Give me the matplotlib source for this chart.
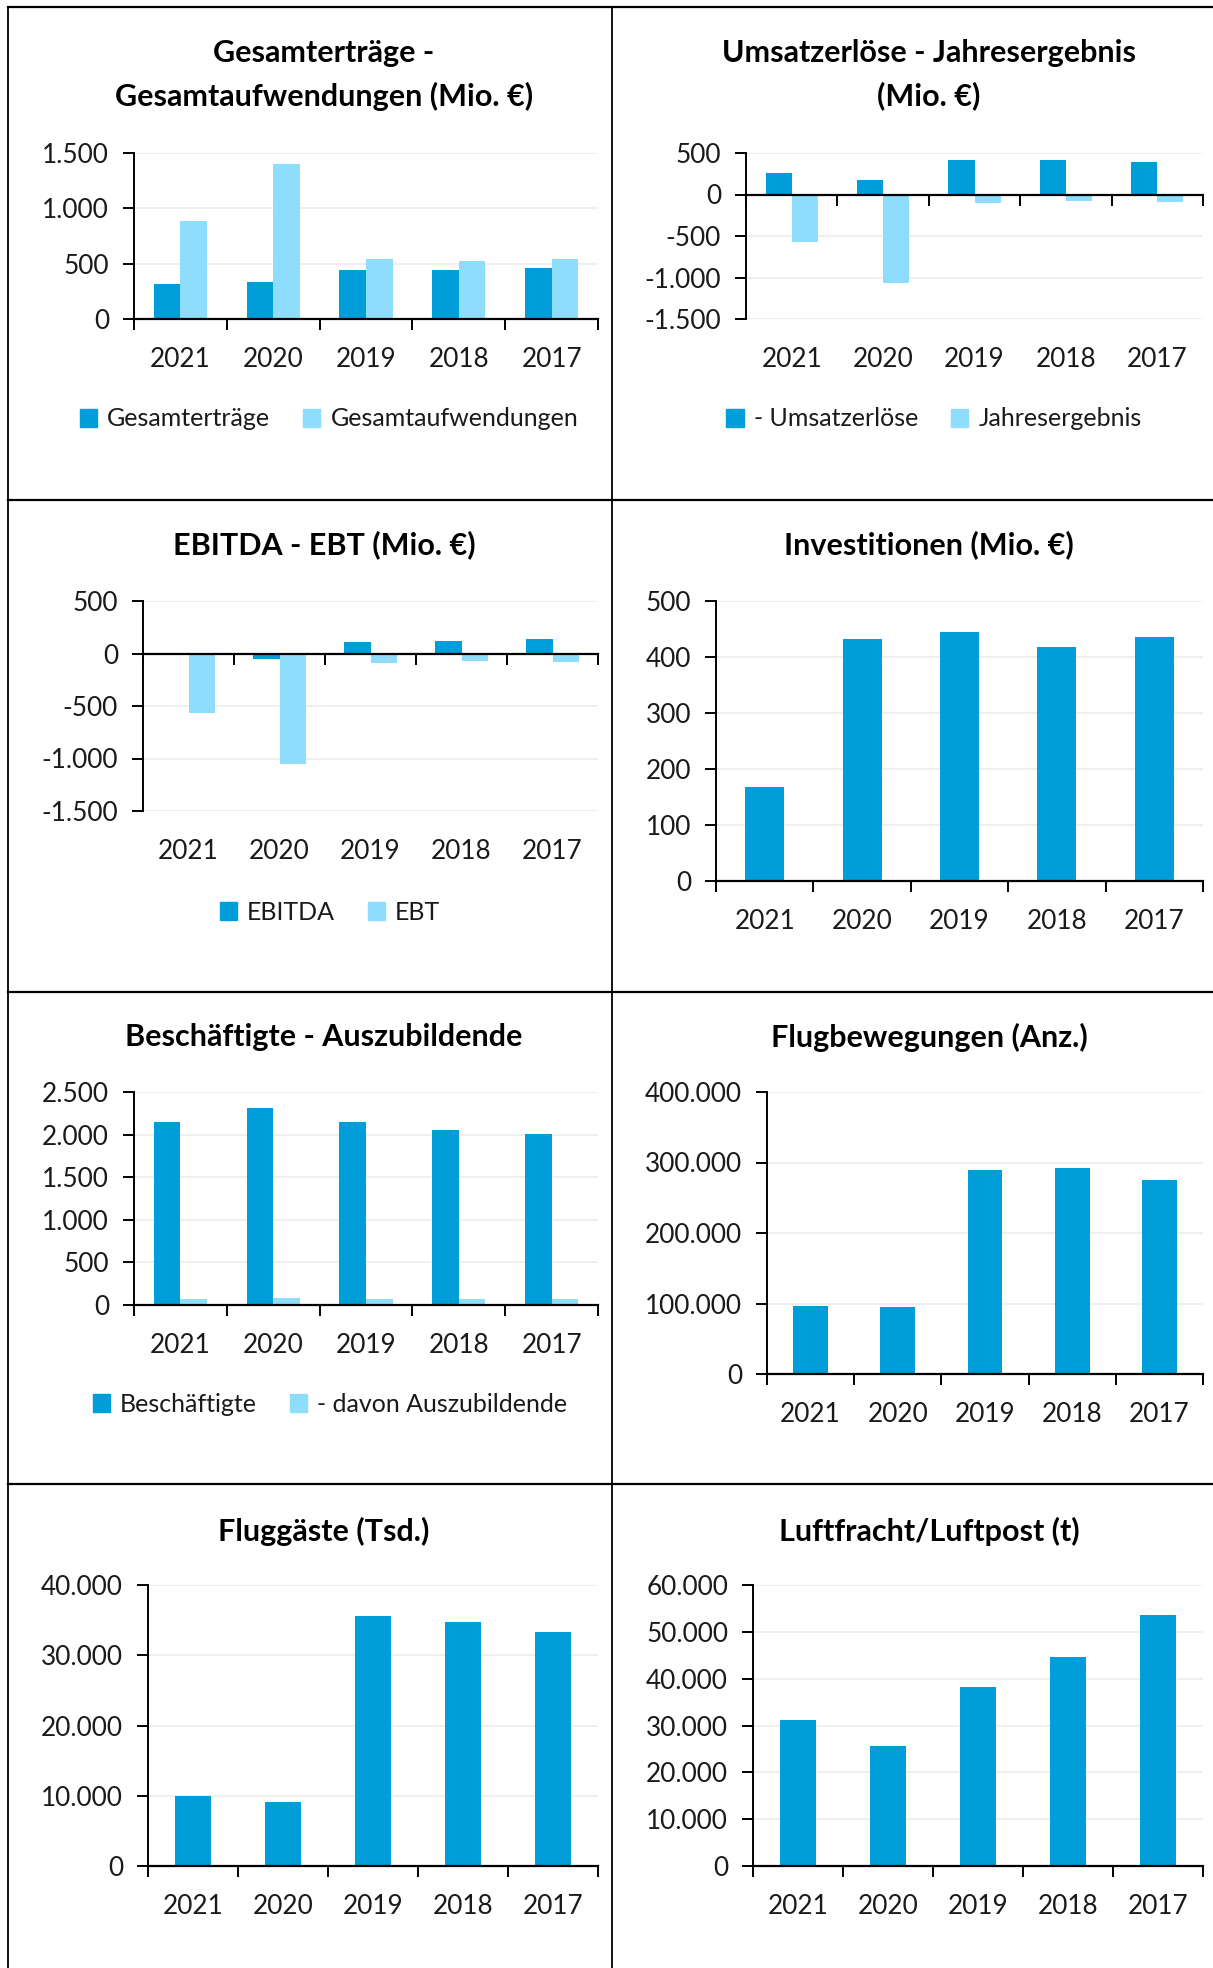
import matplotlib
matplotlib.use("Agg")
import matplotlib.pyplot as plt
from matplotlib.lines import Line2D
from matplotlib.patches import Patch
from matplotlib.ticker import FuncFormatter

plt.rcParams['font.family'] = ['Lato', 'DejaVu Sans']

years = ['2021', '2020', '2019', '2018', '2017']

# Mio. €
gesamtertraege = [313, 337, 440, 443, 461]
gesamtaufwendungen = [889, 1401, 539, 521, 545]
umsatzerloese = [265, 169, 414, 410, 386]
jahresergebnis = [-574, -1064, -100, -80, -88]
ebitda = [-8, -54, 110, 120, 136]
ebt = [-565, -1054, -95, -76, -82]
investitionen = [168, 433, 445, 418, 435]

beschaeftigte = [2152, 2314, 2144, 2057, 2009]
auszubildende = [75, 83, 75, 71, 71]
flugbewegungen = [95900, 95000, 289000, 292600, 274500]
fluggaeste = [9916, 9106, 35614, 34708, 33278]  # Tsd.
luftfracht = [31252, 25531, 38260, 44625, 53636]  # t

DARK = '#009ED9'
LIGHT = '#8FDDFD'
TXT = '#1a1a1a'

W, H = 1213, 1968
fig = plt.figure(figsize=(W / 100, H / 100), dpi=100)


def fmt(v, pos=None):
    return '{:,.0f}'.format(v).replace(',', '.')


def make_ax(left, top, right, bottom, ylim, step):
    ax = fig.add_axes([left / W, 1 - bottom / H, (right - left) / W, (bottom - top) / H])
    ax.set_xlim(-0.5, 4.5)
    ax.set_ylim(*ylim)
    ticks = list(range(ylim[0], ylim[1] + 1, step))
    ax.set_yticks(ticks)
    ax.yaxis.set_major_formatter(FuncFormatter(fmt))
    ax.grid(axis='y', color='#eeeeee', lw=1.3, zorder=0)
    ax.set_axisbelow(True)
    for s in ['top', 'right']:
        ax.spines[s].set_visible(False)
    ax.spines['left'].set_linewidth(1.4)
    ax.spines['bottom'].set_linewidth(1.6)
    ax.spines['bottom'].set_position(('data', 0))
    ax.set_xticks([i - 0.5 for i in range(6)])
    ax.set_xticklabels([])
    ax.tick_params(axis='x', direction='out', length=8, width=1.4)
    ax.tick_params(axis='y', direction='out', length=8, width=1.4,
                   labelsize=18.8, labelcolor=TXT, pad=10)
    for i, y in enumerate(years):
        ax.annotate(y, xy=(i, 0), xycoords=('data', 'axes fraction'),
                    xytext=(0, -29), textcoords='offset points',
                    ha='center', va='center', fontsize=18.8, color=TXT)
    return ax


def title(x, y, text):
    fig.text(x / W, 1 - y / H, text, ha='center', va='center',
             fontsize=22, fontweight='bold', color='black', linespacing=1.6)


def legend(ax, x, y, labels):
    handles = [Patch(color=DARK), Patch(color=LIGHT)]
    fig.legend(handles, labels, loc='center', bbox_to_anchor=(x / W, 1 - y / H),
               ncol=2, frameon=False, fontsize=18, handlelength=0.7,
               handleheight=0.7, handletextpad=0.4, columnspacing=1.3,
               labelcolor=TXT)


pos = list(range(5))
bw2 = 0.286
bw1 = 0.40

# Gesamterträge - Gesamtaufwendungen
ax1 = make_ax(134, 153, 598, 319, (0, 1500), 500)
ax1.bar([p - bw2 / 2 for p in pos], gesamtertraege, bw2, color=DARK, zorder=2)
ax1.bar([p + bw2 / 2 for p in pos], gesamtaufwendungen, bw2, color=LIGHT, zorder=2)
title(324, 75, 'Gesamterträge -\nGesamtaufwendungen (Mio. €)')
legend(ax1, 329, 419, ['Gesamterträge', 'Gesamtaufwendungen'])

# Umsatzerlöse - Jahresergebnis
ax2 = make_ax(746, 153, 1203, 319, (-1500, 500), 500)
ax2.bar([p - bw2 / 2 for p in pos], umsatzerloese, bw2, color=DARK, zorder=2)
ax2.bar([p + bw2 / 2 for p in pos], jahresergebnis, bw2, color=LIGHT, zorder=2)
title(929, 75, 'Umsatzerlöse - Jahresergebnis\n(Mio. €)')
legend(ax2, 934, 419, ['- Umsatzerlöse', 'Jahresergebnis'])

# EBITDA - EBT
ax3 = make_ax(143, 601, 598, 811, (-1500, 500), 500)
ax3.bar([p - bw2 / 2 for p in pos], ebitda, bw2, color=DARK, zorder=2)
ax3.bar([p + bw2 / 2 for p in pos], ebt, bw2, color=LIGHT, zorder=2)
title(324, 545, 'EBITDA - EBT (Mio. €)')
legend(ax3, 330, 912, ['EBITDA', 'EBT'])

# Investitionen
ax4 = make_ax(716, 601, 1203, 881, (0, 500), 100)
ax4.bar(pos, investitionen, bw1, color=DARK, zorder=2)
title(929, 545, 'Investitionen (Mio. €)')

# Beschäftigte - Auszubildende
ax5 = make_ax(134, 1092, 598, 1305, (0, 2500), 500)
ax5.bar([p - bw2 / 2 for p in pos], beschaeftigte, bw2, color=DARK, zorder=2)
ax5.bar([p + bw2 / 2 for p in pos], auszubildende, bw2, color=LIGHT, zorder=2)
title(324, 1037, 'Beschäftigte - Auszubildende')
legend(ax5, 330, 1404, ['Beschäftigte', '- davon Auszubildende'])

# Flugbewegungen
ax6 = make_ax(767, 1092, 1203, 1374, (0, 400000), 100000)
ax6.bar(pos, flugbewegungen, bw1, color=DARK, zorder=2)
title(929, 1037, 'Flugbewegungen (Anz.)')

# Fluggäste
ax7 = make_ax(148, 1585, 598, 1866, (0, 40000), 10000)
ax7.bar(pos, fluggaeste, bw1, color=DARK, zorder=2)
title(324, 1531, 'Fluggäste (Tsd.)')

# Luftfracht/Luftpost
ax8 = make_ax(753, 1585, 1203, 1866, (0, 60000), 10000)
ax8.bar(pos, luftfracht, bw1, color=DARK, zorder=2)
title(929, 1531, 'Luftfracht/Luftpost (t)')

# Rahmen um die Kacheln
for y in [7, 500, 992, 1484]:
    fig.add_artist(Line2D([8 / W, 1], [1 - y / H, 1 - y / H], color='black', lw=1.6))
for x in [8, 612]:
    fig.add_artist(Line2D([x / W, x / W], [1 - 7 / H, 0], color='black', lw=1.3))

fig.savefig('out.png', dpi=100, facecolor='white')
